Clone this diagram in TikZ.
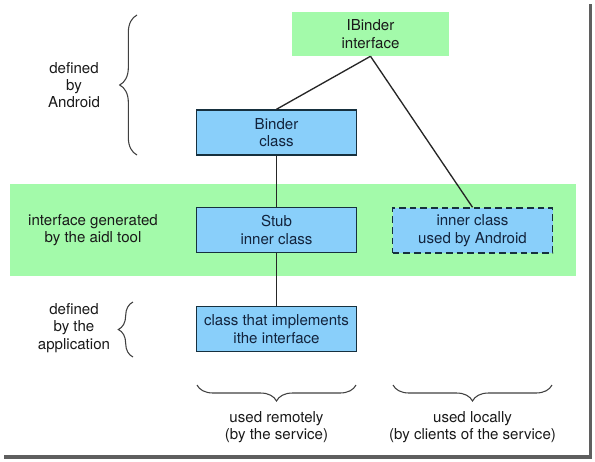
\documentclass[tikz,border=0pt]{standalone}
\usepackage{fontspec}
\setmainfont{TeX Gyre Heros}
\usetikzlibrary{decorations.pathreplacing}
\definecolor{bandgreen}{RGB}{163,250,170}
\definecolor{boxblue}{RGB}{137,207,250}
\definecolor{boxedge}{RGB}{22,48,62}
\definecolor{txt}{RGB}{25,25,25}
\definecolor{boxtxt}{RGB}{18,35,60}
\definecolor{framegray}{RGB}{95,95,95}
\begin{document}
\begin{tikzpicture}[x=0.75pt,y=-0.75pt,
  lbl/.style={font=\fontsize{11.3}{13}\selectfont, align=center, text=txt, inner sep=0pt},
  cls/.style={draw=boxedge, line width=1.1pt, fill=boxblue, minimum width=120pt,
    minimum height=33.75pt, align=center, font=\fontsize{11.3}{13}\selectfont,
    text=boxtxt, inner sep=0pt},
  iface/.style={fill=bandgreen, minimum width=117.75pt, minimum height=33pt,
    align=center, font=\fontsize{11.3}{13}\selectfont, text=txt, inner sep=0pt},
  band/.style={fill=bandgreen, minimum width=424.5pt, minimum height=69pt, inner sep=0pt},
  conn/.style={draw=black!85, line width=1pt},
  brc/.style={draw=black!75, line width=0.8pt, decorate},
  dashbox/.style={dash pattern=on 5pt off 3pt}
]
\useasboundingbox (0,0) rectangle (595,461);

\node[band] (band) at (293,230) {};

\node[iface] (ib) at (370.5,34) {IBinder\\interface};
\node[cls] (binder) at (276.5,132.5) {Binder\\class};
\node[cls] (stub) at (276.5,230) {Stub\\inner class};
\node[cls, dashbox] (inner) at (472.5,230.5) {inner class\\used by Android};
\node[cls] (impl) at (276.5,329) {class that implements\\ithe interface};

\draw[conn] (ib.south) -- (binder.north);
\draw[conn] (ib.south) -- (inner.north);
\draw[conn] (binder) -- (stub);
\draw[conn] (stub) -- (impl);

\coordinate (b1s) at (137,155);
\coordinate (b1e) at (137,15);
\draw[brc, decoration={brace, amplitude=13pt}] (b1s) -- (b1e);
\coordinate (b2s) at (133,357);
\coordinate (b2e) at (133,302);
\draw[brc, decoration={brace, amplitude=11pt}] (b2s) -- (b2e);
\coordinate (b3s) at (356,385);
\coordinate (b3e) at (197,385);
\draw[brc, decoration={brace, amplitude=12pt}] (b3s) -- (b3e);
\coordinate (b4s) at (552,385);
\coordinate (b4e) at (393,385);
\draw[brc, decoration={brace, amplitude=12pt}] (b4s) -- (b4e);

\node[lbl] (l1) at (74,85) {defined\\by\\Android};
\node[lbl] (l2) at (93,230) {interface generated\\by the aidl tool};
\node[lbl] (l3) at (74,328) {defined\\by the\\application};
\node[lbl] (l4) at (276.5,427) {used remotely\\(by the service)};
\node[lbl] (l5) at (472.5,427) {used locally\\(by clients of the service)};

\coordinate (f1) at (590.5,4);
\coordinate (f2) at (590.5,457);
\coordinate (f3) at (4,457);
\draw[framegray, line width=2.3pt] (f1) -- (f2) -- (f3);
\end{tikzpicture}
\end{document}
